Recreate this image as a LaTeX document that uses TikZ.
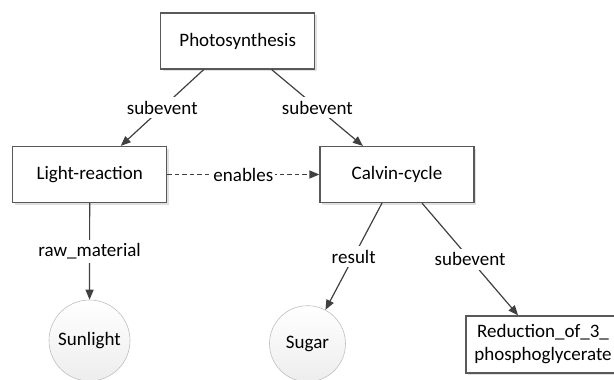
\documentclass[tikz,border=0pt]{standalone}
\usepackage{fontspec}
\setmainfont{Carlito}
\usetikzlibrary{arrows.meta,shadows}

\begin{document}
\begin{tikzpicture}[x=1pt,y=-1pt,
    font=\fontsize{19}{23}\selectfont,
    box/.style={draw=black!65,line width=1.2pt,fill=white,minimum width=154pt,
      minimum height=56pt,align=center,inner sep=2pt,
      drop shadow={shadow xshift=2pt,shadow yshift=-2pt,fill=black!20,opacity=0.6}},
    ball/.style={circle,draw=black!25,line width=0.6pt,top color=white,
      bottom color=black!7,inner sep=0pt},
    lbl/.style={fill=white,inner xsep=1.5pt,inner ysep=4pt},
    link/.style={draw=black!75,line width=1.2pt,-{Triangle[length=10pt,width=8pt]}}]
      \useasboundingbox (0,0) rectangle (614,380);
      \clip (0,0) rectangle (614,380);
      \draw
        (237.7,41) node[box] (0){Photosynthesis}
        (89.7,174.5) node[box] (1){Light-reaction}
        (397,174.5) node[box] (2){Calvin-cycle}
        (89.5,340.5) node[ball,minimum size=81pt] (3){Sunlight}
        (307.5,343.7) node[ball,minimum size=76pt] (4){Sugar}
        (543,344.5) node[box,minimum height=57pt] (5){Reduction\_of\_3\_\\phosphoglycerate};
      \begin{scope}[link]
        \draw ([xshift=-34pt]0.south) to node[lbl]{subevent} (1);
        \draw ([xshift=34pt]0.south) to node[lbl]{subevent} (2);
        \draw[dash pattern=on 4.5pt off 3pt] (1) to node[lbl]{enables} (2);
        \draw (1) to node[lbl]{raw\_material} (3);
        \draw ([xshift=-15pt]2.south) to node[lbl]{result} (4);
        \draw ([xshift=25pt]2.south) to node[lbl]{subevent} (5);
      \end{scope}
    \end{tikzpicture}
\end{document}
